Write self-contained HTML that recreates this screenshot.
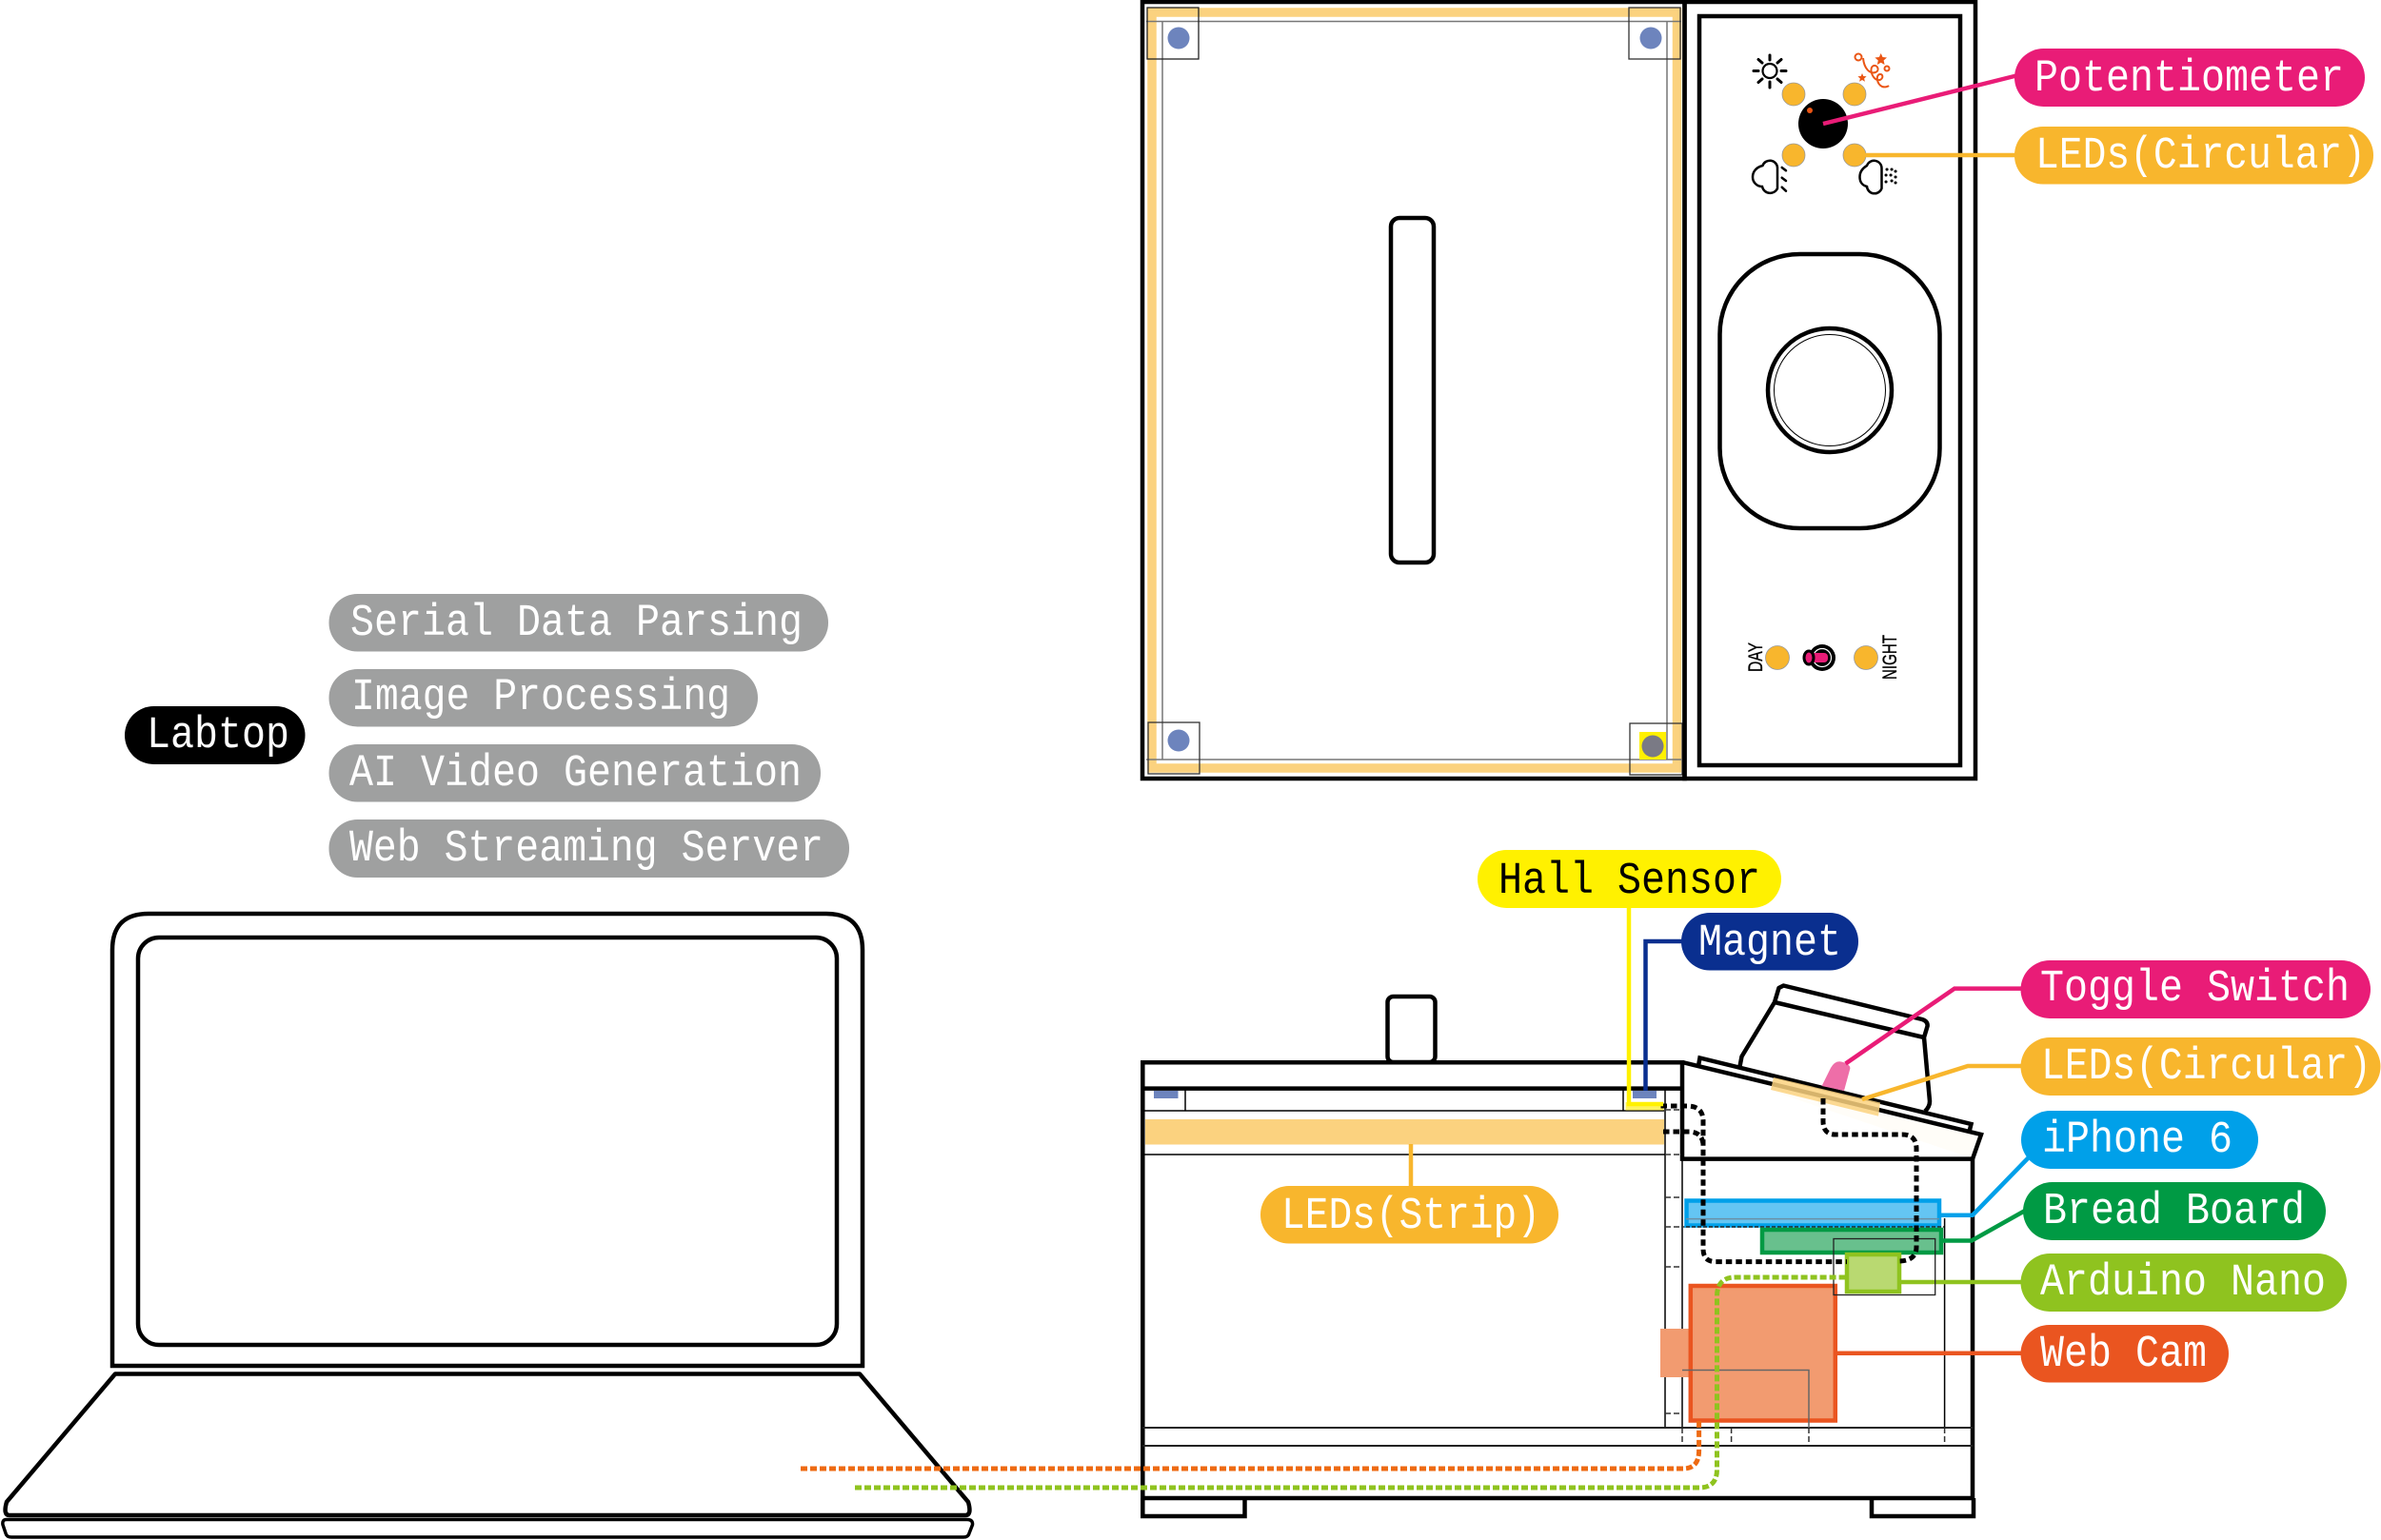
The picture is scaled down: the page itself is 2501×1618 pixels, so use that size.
<!DOCTYPE html>
<html><head><meta charset="utf-8"><style>
html,body{margin:0;padding:0;background:#fff}
svg{display:block}
.t{font-family:"Liberation Mono","DejaVu Sans Mono",monospace;font-size:47px;fill:#fff}
.k{fill:none;stroke:#000;stroke-width:4.5}
.n{fill:none;stroke:#000;stroke-width:1.5}
</style></head><body>
<svg width="2501" height="1618" viewBox="0 0 2501 1618" xmlns="http://www.w3.org/2000/svg">
<rect width="2501" height="1618" fill="#fff"/>

<!-- TOP VIEW -->
<path d="M1210 13H1761.500V807H1210Z" fill="none" stroke="#fbd27f" stroke-width="9.500"/>
<path d="M1204 22.500H1766M1221 22.500V798M1751 22.500V798M1204 798H1766" fill="none" stroke="#777" stroke-width="1.500"/>
<rect x="1205" y="8" width="54" height="54" fill="none" stroke="#222" stroke-width="1.300"/>
<rect x="1711" y="8" width="54" height="54" fill="none" stroke="#333" stroke-width="1.300"/>
<rect x="1206" y="759" width="54" height="54" fill="none" stroke="#333" stroke-width="1.300"/>
<rect x="1712" y="760" width="55" height="54" fill="none" stroke="#333" stroke-width="1.300"/>
<circle cx="1238" cy="40" r="11.500" fill="#6d84bd"/>
<circle cx="1734" cy="40" r="11.500" fill="#6d84bd"/>
<circle cx="1238" cy="778" r="11.500" fill="#6d84bd"/>
<rect x="1722" y="769" width="28" height="29" fill="#fff100"/>
<circle cx="1736" cy="784" r="11.500" fill="#7a7a85"/>
<rect class="k" x="1200" y="2" width="569.500" height="816"/>
<rect class="k" x="1769.500" y="2" width="305.500" height="816"/>
<rect class="k" x="1785" y="17" width="274" height="787"/>
<rect class="k" x="1461" y="229" width="45" height="362" rx="9"/>
<rect class="k" x="1806.500" y="267" width="231" height="288" rx="84" ry="84"/>
<circle cx="1922" cy="410" r="65" fill="none" stroke="#000" stroke-width="4.500"/>
<circle cx="1922" cy="410" r="58.500" fill="none" stroke="#000" stroke-width="1"/>

<!-- Knob + LEDs -->
<g fill="#f8b62d" stroke="#999" stroke-width="0.800">
<circle cx="1884" cy="99" r="12"/><circle cx="1948" cy="99" r="12"/>
<circle cx="1884" cy="163" r="12"/><circle cx="1948" cy="163" r="12"/>
<circle cx="1867" cy="691" r="12.500"/><circle cx="1960" cy="691" r="12.500"/>
</g>
<circle cx="1915" cy="130" r="26" fill="#000"/>
<circle cx="1901" cy="116" r="3" fill="#ea5514"/>
<path d="M1915 130L2120 79" stroke="#e91c77" stroke-width="4.500" fill="none"/>
<path d="M1948 163H2120" stroke="#f8b62d" stroke-width="4.500" fill="none"/>

<!-- Sun -->
<g fill="none" stroke="#000" stroke-width="3" stroke-linecap="round">
<circle cx="1859" cy="74.500" r="7.500" stroke-width="2.200"/>
<path d="M1859 58V63M1859 86V92M1842 74.500H1847M1871 74.500H1876M1847 62.500L1851 66M1871 62.500L1867 66M1847 86.500L1851 83M1871 86.500L1867 83"/>
</g>
<!-- Confetti -->
<g fill="none" stroke="#ea5514" stroke-width="2">
<circle cx="1952" cy="60" r="3.500"/>
<circle cx="1982" cy="72" r="2.500"/>
<path d="M1957 61C1958 72 1964 78 1970 76C1975 74 1972 68 1968 69C1963 71 1966 82 1972 84C1978 85 1979 78 1975 78C1970 78 1971 88 1977 91C1980 92 1983 91 1984 90"/>
<path d="M1975.700 56l1.800 4 4.500.5-3.400 3 1 4.500-3.900-2.300-3.900 2.300 1-4.500-3.400-3 4.500-.5z" fill="#ea5514" stroke="none"/>
<path d="M1956 77l1.300 3 3.300.3-2.500 2.200.8 3.200-2.900-1.700-2.900 1.700.8-3.200-2.500-2.200 3.300-.3z" fill="#ea5514" stroke="none"/>
</g>
<!-- Clouds -->
<g fill="none" stroke="#000" stroke-width="2.500" stroke-linecap="round">
<path d="M1867 198V176A8 8 0 0 0 1851.500 174C1844 176 1841 181 1841 186C1841 192 1846 196 1851 196A8.500 8.500 0 0 0 1867 198Z"/>
<path d="M1871.700 176L1876 179.300M1871.700 186.700L1876 190M1871.700 196.700L1876 200.700"/>
<path d="M1976.500 198V177A8 8 0 0 0 1961 174C1956 177 1953.500 181 1953.500 186C1953.500 192 1957 195 1961 196A8 8 0 0 0 1976.500 198Z"/>
<path d="M1982 178h.1M1987 178h.1M1981 184h.1M1986 184h.1M1991 180h.1M1991 186h.1M1981 191h.1M1987 190h.1M1991 192h.1" stroke-width="3"/>
</g>

<!-- Toggle top -->
<circle cx="1914" cy="691" r="14" fill="#000"/>
<circle cx="1914" cy="691" r="9.500" fill="#000" stroke="#fff" stroke-width="1.200"/>
<rect x="1898" y="686" width="22" height="10" rx="4" fill="#e91c77"/>
<ellipse cx="1900" cy="691" rx="5" ry="7" fill="#e91c77" stroke="#000" stroke-width="3"/>
<text transform="translate(1851 706) rotate(-90)" font-family="'Liberation Sans',sans-serif" font-size="21" stroke="#000" stroke-width=".3" textLength="31" lengthAdjust="spacingAndGlyphs" fill="#000">DAY</text>
<text transform="translate(1992 714) rotate(-90)" font-family="'Liberation Sans',sans-serif" font-size="21" stroke="#000" stroke-width=".3" textLength="47" lengthAdjust="spacingAndGlyphs" fill="#000">NIGHT</text>

<!-- LAPTOP -->
<path class="k" d="M118 1435V998Q118 960 156 960H868Q906 960 906 998V1435Z"/>
<rect class="k" x="145" y="985" width="734" height="428" rx="22"/>
<path class="k" d="M121 1443.500H903L1017 1578Q1021 1592 1014 1592H10Q3 1592 7 1578Z" stroke-linejoin="round"/>
<path d="M7 1596.500H1016Q1022 1596.500 1021.500 1602L1018 1611Q1017 1615 1012 1615H12Q7 1615 6 1611L3 1602Q2 1596.500 7 1596.500Z" fill="#fff" stroke="#000" stroke-width="3.500"/>

<!-- SIDE VIEW -->
<path d="M1860 1146L2072 1217L2081 1192L1975 1170Z" fill="#fffdf8"/>
<rect x="1203" y="1176" width="545" height="26.500" fill="#fbd27f"/>
<path class="n" d="M1200 1167H1748M1245 1143.500V1167M1705 1143.500V1167M1200 1213H1749M1749 1143.500V1500M1767 1218V1500M2042.600 1280V1500"/>
<path d="M1749 1166H1767M1749 1213H1767M1749 1258H1767M1749 1289H1771M1749 1331H1767M1749 1485H1767M1767 1500V1519M1818.600 1500V1519M1900 1500V1519M2042.600 1500V1519" fill="none" stroke="#333" stroke-width="1.500" stroke-dasharray="6 3"/>
<rect x="1212" y="1146" width="25.500" height="8" fill="#6d84bd"/>
<rect x="1715" y="1146" width="25" height="8" fill="#6d84bd"/>
<rect x="1707.500" y="1158" width="40" height="8.500" fill="#fff25f"/>

<rect class="k" x="1457.500" y="1047" width="50" height="69" rx="6"/>
<path class="k" d="M2072 1217V1574H1200.300V1116.300H1767V1217.600H2072M1200.300 1143.600H1767"/>
<path class="k" d="M1200.300 1574V1593H1307.500V1574M1966 1574V1593H2073V1574"/>
<path d="M1200.300 1500H2072M1200.300 1519H2072" fill="none" stroke="#222" stroke-width="2"/>

<!-- tilted panel -->
<path class="k" d="M1767 1116L2081 1192L2072 1217.600"/>
<path class="k" d="M1784 1120L1785.500 1111.500L2070.500 1181L2068.500 1189"/>
<path class="k" d="M1827.600 1120L1829.500 1110L1864 1053L1868.500 1038L1873.400 1035.500L2019 1071Q2025 1073 2024.600 1078L2021 1090L2027 1157Q2027 1163 2022 1167.500" stroke-linejoin="round"/>
<path class="k" d="M1864 1053L2021 1090"/>
<path d="M1913.600 1141L1923 1122Q1928 1113 1936 1116Q1945 1119 1943 1124L1937 1146Z" fill="#ee6ea8"/>
<path d="M1863 1132L1975 1158.500L1973 1172.600L1860 1145Z" fill="#fbd27f" fill-opacity=".85"/>
<path d="M1938.600 1117.500L2053 1038.600H2125" fill="none" stroke="#e91c77" stroke-width="4.500"/>
<path d="M1956 1155L2067 1120H2125" fill="none" stroke="#f8b62d" stroke-width="4.500"/>

<!-- components -->
<rect x="1744" y="1396" width="32" height="51" fill="#f29b70"/>
<rect x="1775.800" y="1351" width="152" height="141.500" fill="#f29b70" stroke="#ea5520" stroke-width="4.500"/>
<path d="M1767 1439.500H1900V1500" fill="none" stroke="#666" stroke-width="1.500"/>
<path d="M1928 1421.700H2125" stroke="#ea5520" stroke-width="4.500" fill="none"/>

<rect x="1771.500" y="1261.500" width="265.500" height="26" fill="#64c5f3" stroke="#00a0e9" stroke-width="4.500"/>
<path d="M1771 1280.600H2037" stroke="#6a8fa5" stroke-width="1.500"/>
<path d="M1771 1289H2042" stroke="#222" stroke-width="1.500" stroke-dasharray="4 2" fill="none"/>
<path d="M2037 1276.700H2072L2131 1216" fill="none" stroke="#00a0e9" stroke-width="4.500"/>

<rect x="1851" y="1292" width="188" height="24" fill="#68c08d" stroke="#009a44" stroke-width="4.500"/>
<path d="M2039 1303.500H2071L2127 1272" fill="none" stroke="#009a44" stroke-width="4.500"/>

<rect x="1940" y="1318" width="55" height="39" fill="#b9d971" stroke="#8fc31f" stroke-width="4.500"/>
<path d="M1995 1347H2125" stroke="#8fc31f" stroke-width="4.500" fill="none"/>
<rect x="1926" y="1301.500" width="106.700" height="59" fill="none" stroke="#222" stroke-width="1.300"/>

<!-- dotted wires -->
<g fill="none" stroke="#000" stroke-width="5" stroke-dasharray="6.500 4">
<path d="M1744.500 1162H1772Q1789 1162 1789 1178V1312Q1789 1325.600 1802 1325.600H1940"/>
<path d="M1747 1189H1775Q1789 1190 1789 1204"/>
<path d="M1915 1154V1178Q1915 1192 1928 1192H1998Q2013 1192 2013 1207V1310Q2013 1325 1994 1325"/>
</g>
<path d="M841 1543H1768Q1784.600 1543 1784.600 1524V1493" fill="none" stroke="#ee6a12" stroke-width="5" stroke-dasharray="7 3"/>
<path d="M898 1563H1785Q1803.500 1563 1803.500 1544V1362Q1803.500 1342 1823 1342H1940" fill="none" stroke="#8fc31f" stroke-width="5" stroke-dasharray="7 3"/>

<!-- leader lines -->
<path d="M1711 954V1160H1747" fill="none" stroke="#fff100" stroke-width="4.500"/>
<path d="M1728.500 1146V989H1770" fill="none" stroke="#0a2f8f" stroke-width="4.500"/>
<path d="M1482 1202V1248" fill="none" stroke="#f8b62d" stroke-width="4.500"/>

<!-- PILLS -->
<rect x="131" y="742" width="189.500" height="61" rx="30.500" fill="#000"/>
<rect x="345.500" y="624" width="524.500" height="60.500" rx="30" fill="#9fa0a0"/>
<rect x="345.500" y="703" width="450.500" height="60.500" rx="30" fill="#9fa0a0"/>
<rect x="345.500" y="782" width="516.500" height="60.500" rx="30" fill="#9fa0a0"/>
<rect x="345.500" y="861" width="546.500" height="61" rx="30" fill="#9fa0a0"/>
<rect x="2116" y="51" width="368" height="61" rx="30.500" fill="#e91c77"/>
<rect x="2116" y="133" width="377" height="60.500" rx="30" fill="#f8b62d"/>
<rect x="1552" y="893" width="319" height="61" rx="30.500" fill="#fff100"/>
<rect x="1766" y="959" width="186" height="60.500" rx="30" fill="#0a2f8f"/>
<rect x="2122.500" y="1009" width="367.500" height="61" rx="30.500" fill="#e91c77"/>
<rect x="2122.500" y="1090" width="378" height="61" rx="30.500" fill="#f8b62d"/>
<rect x="2123" y="1167" width="249" height="61" rx="30.500" fill="#00a0e9"/>
<rect x="2125" y="1242" width="318" height="61" rx="30.500" fill="#009a44"/>
<rect x="2122.500" y="1317" width="342.500" height="61" rx="30.500" fill="#8fc31f"/>
<rect x="2122.500" y="1392" width="218.500" height="60.500" rx="30" fill="#ea5520"/>
<rect x="1324" y="1246" width="313" height="60.500" rx="30" fill="#f8b62d"/>

<text class="t" x="154" y="785" textLength="150" lengthAdjust="spacingAndGlyphs">Labtop</text>
<text class="t" x="368" y="667" textLength="475" lengthAdjust="spacingAndGlyphs">Serial Data Parsing</text>
<text class="t" x="369" y="745" textLength="398" lengthAdjust="spacingAndGlyphs">Image Processing</text>
<text class="t" x="367" y="825" textLength="475" lengthAdjust="spacingAndGlyphs">AI Video Generation</text>
<text class="t" x="367" y="904" textLength="498" lengthAdjust="spacingAndGlyphs">Web Streaming Server</text>
<text class="t" x="2137" y="95" textLength="325" lengthAdjust="spacingAndGlyphs">Potentiometer</text>
<text class="t" x="2138" y="176" textLength="347" lengthAdjust="spacingAndGlyphs">LEDs(Circular)</text>
<text class="t" x="1574" y="938" textLength="275" lengthAdjust="spacingAndGlyphs" style="fill:#000">Hall Sensor</text>
<text class="t" x="1784" y="1003" textLength="150" lengthAdjust="spacingAndGlyphs">Magnet</text>
<text class="t" x="2143" y="1051" textLength="325" lengthAdjust="spacingAndGlyphs">Toggle Switch</text>
<text class="t" x="2144" y="1133" textLength="347" lengthAdjust="spacingAndGlyphs">LEDs(Circular)</text>
<text class="t" x="2145" y="1210" textLength="200" lengthAdjust="spacingAndGlyphs">iPhone 6</text>
<text class="t" x="2146" y="1285" textLength="275" lengthAdjust="spacingAndGlyphs">Bread Board</text>
<text class="t" x="2143" y="1360" textLength="300" lengthAdjust="spacingAndGlyphs">Arduino Nano</text>
<text class="t" x="2143" y="1435" textLength="175" lengthAdjust="spacingAndGlyphs">Web Cam</text>
<text class="t" x="1346" y="1290" textLength="272" lengthAdjust="spacingAndGlyphs">LEDs(Strip)</text>
</svg>
</body></html>
